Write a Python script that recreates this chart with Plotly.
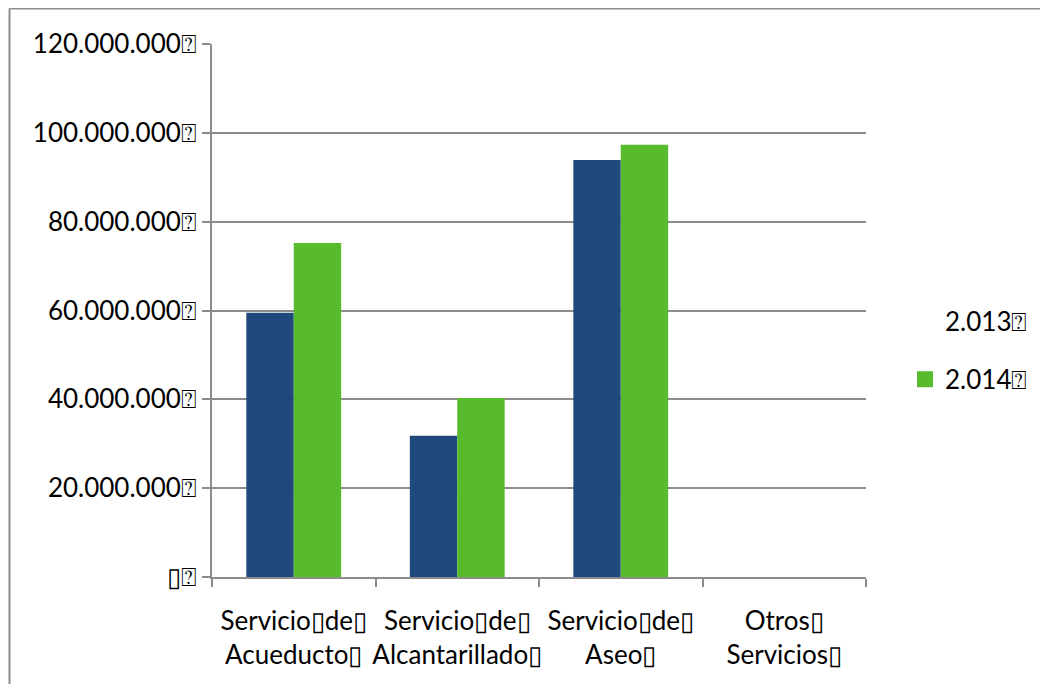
import plotly.graph_objects as go

B = "\u25AF"   # narrow missing-glyph box (in words)
D = "\u2370"   # wide missing-glyph box (after numbers)
categories = [f"Servicio{B}de{B}<br>Acueducto{B}",
              f"Servicio{B}de{B}<br>Alcantarillado{B}",
              f"Servicio{B}de{B}<br>Aseo{B}",
              f"Otros{B}<br>Servicios{B}"]
series_names = [f"2.013{D}", f"2.014{D}"]
values_2013 = [59500000, 31800000, 93900000, 0]
values_2014 = [75200000, 40300000, 97300000, 0]
tick_vals = [0, 20000000, 40000000, 60000000, 80000000, 100000000, 120000000]
tick_text = [f"{B}{D}", f"20.000.000{D}", f"40.000.000{D}", f"60.000.000{D}",
             f"80.000.000{D}", f"100.000.000{D}", f"120.000.000{D}"]

BLUE = "#1F497D"
GREEN = "#58BB2E"
GRID = "#8C8C8C"
FONT = "Lato, Open Sans, sans-serif"

fig = go.Figure()
fig.add_trace(go.Bar(x=categories, y=values_2013, name=series_names[0],
                     marker=dict(color=BLUE, line=dict(width=0)), showlegend=False))
fig.add_trace(go.Bar(x=categories, y=values_2014, name=series_names[1],
                     marker=dict(color=GREEN, line=dict(width=0)), showlegend=False))
# legend entries (first one has no visible swatch, as in the reference)
fig.add_trace(go.Scatter(x=[None], y=[None], mode="markers", name=series_names[0],
                         legendgroup="a",
                         marker=dict(symbol="square", size=17, color="rgba(0,0,0,0)")))
fig.add_trace(go.Scatter(x=[None], y=[None], mode="markers", name=series_names[1],
                         legendgroup="b",
                         marker=dict(symbol="square", size=17, color=GREEN)))

# page has an 8px body margin, so figure coords = page coords - 8
OFF = 8
W, H = 1048, 684
L = 212 - OFF
T = 44 - OFF
R = W - (866 - OFF)
Bm = H - (577 - OFF)
pw, ph = W - L - R, H - T - Bm

def px(x):
    return (x - OFF - L) / pw

def py(y):
    return (H - Bm - (y - OFF)) / ph

fig.update_layout(
    width=W, height=H,
    margin=dict(l=L, r=R, t=T, b=Bm, pad=0, autoexpand=False),
    paper_bgcolor="white", plot_bgcolor="white",
    font=dict(family=FONT, size=26, color="#000000"),
    barmode="group", bargap=0.42, bargroupgap=0,
    legend=dict(x=px(905), y=py(297), xanchor="left", yanchor="top",
                traceorder="grouped", tracegroupgap=22,
                font=dict(family=FONT, size=26), bgcolor="rgba(0,0,0,0)"),
    xaxis=dict(showline=True, linecolor=GRID, linewidth=2, automargin=False,
               ticks="outside", ticklen=8, tickwidth=2, tickcolor=GRID,
               tickson="boundaries", showgrid=False, tickangle=0,
               ticklabelstandoff=20,
               tickfont=dict(family=FONT, size=26)),
    yaxis=dict(range=[0, 120000000], tickvals=tick_vals, ticktext=tick_text,
               showline=True, linecolor=GRID, linewidth=2, automargin=False,
               ticks="outside", ticklen=8, tickwidth=2, tickcolor=GRID,
               showgrid=True, gridcolor=GRID, gridwidth=2, zeroline=False,
               tickfont=dict(family=FONT, size=26)),
    showlegend=True,
)

# outer chart border (top and left visible, right/bottom clipped in reference)
fig.add_shape(type="line", xref="paper", yref="paper",
              x0=px(9.5), y0=py(8.5), x1=px(1070), y1=py(8.5),
              line=dict(color=GRID, width=2))
fig.add_shape(type="line", xref="paper", yref="paper",
              x0=px(9.5), y0=py(8.5), x1=px(9.5), y1=py(720),
              line=dict(color=GRID, width=2))

fig.write_html("out.html")
